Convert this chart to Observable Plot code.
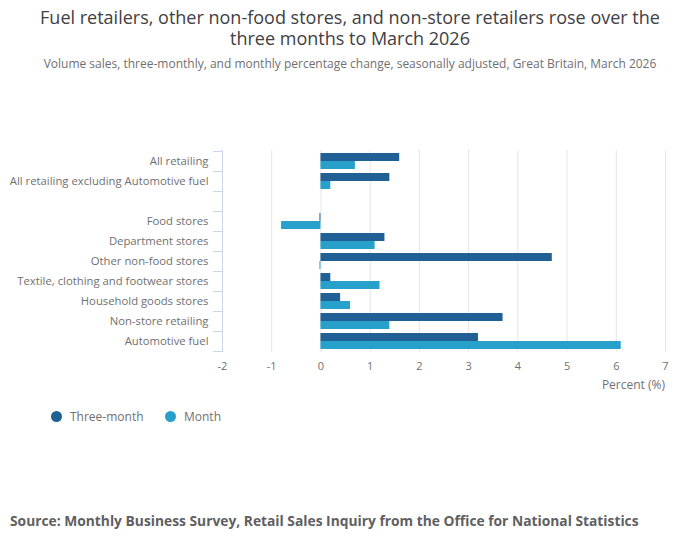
<!DOCTYPE html>
<html>
<head>
<meta charset="utf-8">
<script src="https://cdn.jsdelivr.net/npm/d3@7"></script>
<script src="https://cdn.jsdelivr.net/npm/@observablehq/plot@0.6"></script>
<style>
  body { margin: 0; font-family: "Open Sans", sans-serif; background: #fff; width: 700px; }
  #title { text-align: center; font-size: 18px; line-height: 21px; color: #414042; padding: 7px 20px 0 20px; height: 42px; }
  #subtitle { text-align: center; font-size: 12px; line-height: 16px; color: #707071; margin-top: 7px; height: 16px; }
  #chart svg { display: block; }
  #legend { position: relative; height: 30px; font-size: 12px; color: #707071; }
  .item { position: absolute; top: 6px; display: flex; align-items: center; }
  .dot { width: 11px; height: 11px; border-radius: 50%; margin-right: 8px; }
  #source { position: absolute; left: 10px; top: 511px; font-size: 13.8px; font-weight: bold; color: #5f5f61; }
</style>
</head>
<body>
<div id="title">Fuel retailers, other non-food stores, and non-store retailers rose over the three months to March 2026</div>
<div id="subtitle">Volume sales, three-monthly, and monthly percentage change, seasonally adjusted, Great Britain, March 2026</div>
<div id="chart"></div>
<div id="legend"></div>
<div id="source">Source: Monthly Business Survey, Retail Sales Inquiry from the Office for National Statistics</div>
<script>
const categories = [
  "All retailing",
  "All retailing excluding Automotive fuel",
  " ",
  "Food stores",
  "Department stores",
  "Other non-food stores",
  "Textile, clothing and footwear stores",
  "Household goods stores",
  "Non-store retailing",
  "Automotive fuel"
];
const seriesNames = ["Three-month", "Month"];
const seriesColors = ["#206095", "#27a0cc"];
const barCategories = categories.filter(c => c.trim() !== "");
const threeMonth = [1.6, 1.4, -0.02, 1.3, 4.7, 0.2, 0.4, 3.7, 3.2];
const month = [0.7, 0.2, -0.8, 1.1, -0.02, 1.2, 0.6, 1.4, 6.1];
const xTicks = [-2, -1, 0, 1, 2, 3, 4, 5, 6, 7];
const xLabel = "Percent (%)";

const threeData = barCategories.map((c, i) => ({category: c, value: threeMonth[i]}));
const monthData = barCategories.map((c, i) => ({category: c, value: month[i]}));

const axisColor = "#ccd6eb";
const textColor = "#707071";

const plot = Plot.plot({
  width: 700,
  height: 330,
  marginTop: 78,
  marginBottom: 50,
  marginLeft: 222,
  marginRight: 35,
  style: {fontFamily: "Open Sans, sans-serif", fontSize: "11px", color: textColor},
  x: {domain: [xTicks[0], xTicks[xTicks.length - 1]], ticks: xTicks, label: null},
  y: {domain: categories, padding: 0, label: null},
  marks: [
    Plot.gridX(xTicks, {stroke: "#e6e6e6", strokeOpacity: 1}),
    Plot.ruleX([xTicks[0]], {stroke: axisColor}),
    Plot.axisY({tickSize: 9, text: null, dy: -10, stroke: axisColor, strokeOpacity: 1, label: null}),
    Plot.axisY({tickSize: 9, text: null, dy: 10, stroke: axisColor, strokeOpacity: 1, label: null}),
    Plot.axisY({tickSize: 0, tickPadding: 14, fill: textColor, fontSize: 11.3, label: null}),
    Plot.axisX(xTicks, {tickSize: 0, tickPadding: 10, fill: textColor, fontSize: 11, label: null, tickFormat: d => String(d)}),
    Plot.barX(threeData, {x: "value", y: "category", fill: seriesColors[0], insetTop: 2, insetBottom: 10}),
    Plot.barX(monthData, {x: "value", y: "category", fill: seriesColors[1], insetTop: 10, insetBottom: 2})
  ]
});
document.getElementById("chart").appendChild(plot);

// x-axis title, right aligned to plot edge
const xs = plot.scale("x");
const svg = d3.select(plot);
svg.append("text")
  .attr("x", xs.apply(xTicks[xTicks.length - 1]))
  .attr("y", 317)
  .attr("text-anchor", "end")
  .attr("fill", textColor)
  .style("font-size", "12px")
  .text(xLabel);

// legend
const legend = document.getElementById("legend");
const lefts = [51, 165];
seriesNames.forEach((n, i) => {
  const it = document.createElement("div");
  it.className = "item";
  it.style.left = lefts[i] + "px";
  it.innerHTML = `<span class="dot" style="background:${seriesColors[i]}"></span><span>${n}</span>`;
  legend.appendChild(it);
});
</script>
</body>
</html>
